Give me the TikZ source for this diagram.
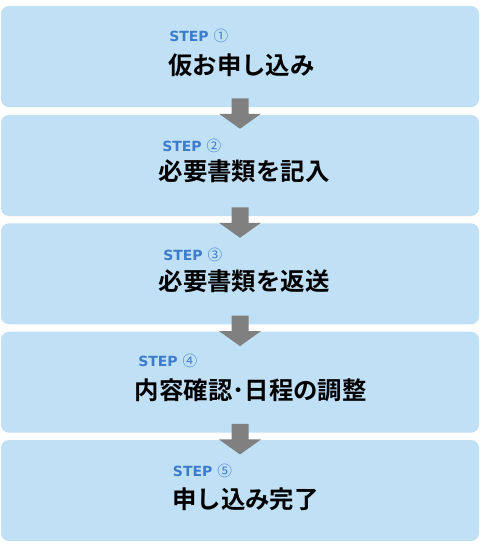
\documentclass[tikz,border=0pt]{standalone}
\usepackage{fontspec}
\newfontfamily\jpfont{Noto Sans CJK JP Bold}
\newfontfamily\jpthin{Noto Sans CJK JP}
\newfontfamily\stepfont{DejaVu Sans}
\definecolor{boxblue}{RGB}{192,224,245}
\definecolor{stepblue}{RGB}{60,124,204}
\definecolor{arrowgray}{RGB}{128,128,128}
\tikzset{
  stepbox/.style={fill=boxblue, draw=none, rounded corners=8*0.75pt,
    minimum width=478*0.75pt, minimum height=101*0.75pt, inner sep=0pt},
  steplabel/.style={anchor=west, inner sep=0pt, text=stepblue,
    font=\stepfont\bfseries\fontsize{10.5pt}{12pt}\selectfont},
  maintext/.style={inner sep=0pt, text=black,
    font=\jpfont\fontsize{18.3pt}{22pt}\selectfont},
  bigarrow/.style={fill=arrowgray, draw=none}
}
\newcommand{\circnum}[1]{{\jpthin\mdseries\fontsize{11pt}{12pt}\selectfont #1}}
\newcommand{\blockarrow}[1]{%
  \fill[bigarrow, shift={(#1)}] (-8.5,-9) -- (8.5,-9) -- (8.5,6.5) -- (21,6.5)
    -- (0,21.5) -- (-21,6.5) -- (-8.5,6.5) -- cycle;}
\begin{document}
\begin{tikzpicture}[x=0.75pt,y=-0.75pt]
\useasboundingbox[fill=white] (0,0) rectangle (480,550);
% boxes
\node[stepbox] (b1) at (240,56.5) {};
\node[stepbox] (b2) at (240,165.5) {};
\node[stepbox] (b3) at (240,273.8) {};
\node[stepbox] (b4) at (240,382.2) {};
\node[stepbox] (b5) at (240,490.5) {};
% arrows
\coordinate (a1) at (b1.south);
\coordinate (a2) at (b2.south);
\coordinate (a3) at (b3.south);
\coordinate (a4) at (b4.south);
\blockarrow{a1}
\blockarrow{a2}
\blockarrow{a3}
\blockarrow{a4}
% texts
\node[steplabel] (s1) at (169,36) {STEP \circnum{①}};
\node[maintext] (m1) at (241.5,65) {仮お申し込み};
\node[steplabel] (s2) at (162,146) {STEP \circnum{②}};
\node[maintext] (m2) at (244,171.5) {必要書類を記入};
\node[steplabel] (s3) at (163,255) {STEP \circnum{③}};
\node[maintext] (m3) at (244,281.7) {必要書類を返送};
\node[steplabel] (s4) at (138,361) {STEP \circnum{④}};
\node[maintext] (m4) at (250.7,390) {内容確認･日程の調整};
\node[steplabel] (s5) at (172.7,471) {STEP \circnum{⑤}};
\node[maintext] (m5) at (245.5,499) {申し込み完了};
\end{tikzpicture}
\end{document}
